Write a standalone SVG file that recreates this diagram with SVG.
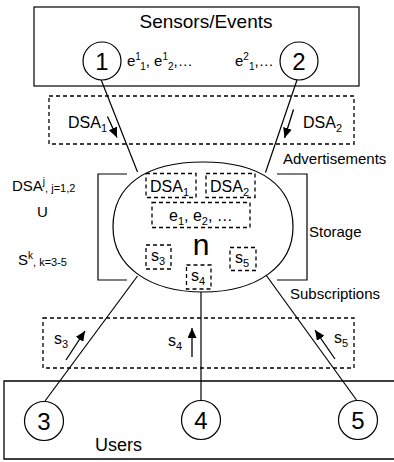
<svg xmlns="http://www.w3.org/2000/svg" width="394" height="462" viewBox="0 0 394 462">
<style>
text{font-family:"Liberation Sans",Arial,sans-serif;fill:#000}
.box{fill:none;stroke:#000;stroke-width:1.2}
.dash{fill:none;stroke:#000;stroke-width:1.3;stroke-dasharray:4 3}
.ln{fill:none;stroke:#000;stroke-width:1.2}
.arr{fill:none;stroke:#000;stroke-width:1.3;marker-end:url(#ah)}
.node{fill:#fff;stroke:#000;stroke-width:1.2}
.num{font-size:24px;text-anchor:middle}
.t16{font-size:16px}
.t15{font-size:15px}
.s{font-size:11px}
.xs{font-size:10px}
</style>
<defs>
<marker id="ah" markerWidth="11" markerHeight="9" refX="10" refY="4.5" orient="auto" markerUnits="userSpaceOnUse">
<path d="M0,0 L10,4.5 L0,9 z" fill="#000"/>
</marker>
</defs>

<g id="sensors">
<rect class="box" x="34" y="7" width="325" height="79"/>
<text x="206" y="28" font-size="19" text-anchor="middle">Sensors/Events</text>
<text x="127" y="66" class="t15">e<tspan class="xs" dy="-6">1</tspan><tspan class="xs" dy="10">1</tspan><tspan dy="-4">, e</tspan><tspan class="xs" dy="-6">1</tspan><tspan class="xs" dy="10">2</tspan><tspan dy="-4">,…</tspan></text>
<text x="235" y="66" class="t15">e<tspan class="xs" dy="-6">2</tspan><tspan class="xs" dy="10">1</tspan><tspan dy="-4">,…</tspan></text>
</g>

<g id="users">
<path d="M400,381 L4,381 L4,459 L400,459" fill="none" stroke="#000" stroke-width="1.3"/>
<text x="95" y="451" font-size="18">Users</text>
</g>

<g id="advertisements">
<rect class="dash" x="49" y="96" width="305" height="48"/>
<text x="68" y="128" class="t16">DSA<tspan class="s" dy="4">1</tspan></text>
<text x="303" y="128" class="t16">DSA<tspan class="s" dy="4">2</tspan></text>
<text x="283" y="164" class="t15">Advertisements</text>
</g>

<g id="subscriptions">
<rect class="dash" x="43" y="318" width="311" height="50"/>
<text x="54" y="344" class="t16">s<tspan class="s" dy="4">3</tspan></text>
<text x="168" y="346" class="t16">s<tspan class="s" dy="4">4</tspan></text>
<text x="334" y="343" class="t16">s<tspan class="s" dy="4">5</tspan></text>
<text x="290" y="299" class="t15">Subscriptions</text>
</g>

<g id="connectors">
<line class="ln" x1="101" y1="79.5" x2="137.5" y2="172"/>
<line class="ln" x1="297" y1="80" x2="265.5" y2="172.5"/>
<line class="ln" x1="45" y1="401" x2="137.5" y2="276"/>
<line class="ln" x1="201" y1="400" x2="201" y2="292"/>
<line class="ln" x1="356.5" y1="400" x2="266" y2="275"/>
<line class="arr" x1="107.5" y1="116.5" x2="117" y2="137.5"/>
<line class="arr" x1="293.5" y1="109.5" x2="284.5" y2="138"/>
<line class="arr" x1="66" y1="360" x2="85" y2="331"/>
<line class="arr" x1="192" y1="357" x2="192" y2="328"/>
<line class="arr" x1="335" y1="359" x2="315" y2="330"/>
</g>

<g id="node-1"><circle class="node" cx="102" cy="61" r="19"/><text class="num" x="102" y="69.5">1</text></g>
<g id="node-2"><circle class="node" cx="299" cy="61" r="19"/><text class="num" x="299" y="69.5">2</text></g>
<g id="node-3"><circle class="node" cx="44" cy="421" r="19.5"/><text class="num" x="44" y="429.5">3</text></g>
<g id="node-4"><circle class="node" cx="201" cy="420" r="19.5"/><text class="num" x="201" y="428.5">4</text></g>
<g id="node-5"><circle class="node" cx="358" cy="420" r="19.5"/><text class="num" x="358" y="428.5">5</text></g>

<g id="storage-brackets">
<path class="ln" d="M127,174 L98,174 L98,280 L127,280"/>
<path class="ln" d="M277,174 L307,174 L307,280 L277,280"/>
<text x="12" y="191" class="t15">DSA<tspan class="xs" dy="-6">j</tspan><tspan class="s" dy="7">, j=1,2</tspan></text>
<text x="37" y="217" class="t15">U</text>
<text x="18" y="265" class="t15">S<tspan class="xs" dy="-6">k</tspan><tspan class="s" dy="7">, k=3-5</tspan></text>
<text x="309" y="237" class="t15">Storage</text>
</g>

<g id="node-n">
<path class="box" d="M113,227 C113,186 145,162 203,162 C261,162 293,186 293,227 C293,266 257,292 203,292 C149,292 113,266 113,227 Z"/>
<rect class="dash" x="146" y="173.5" width="50" height="24"/>
<text x="150" y="192" class="t16">DSA<tspan class="s" dy="4">1</tspan></text>
<rect class="dash" x="206" y="173.5" width="49" height="24"/>
<text x="210" y="192" class="t16">DSA<tspan class="s" dy="4">2</tspan></text>
<rect class="dash" x="152" y="202.5" width="98" height="25"/>
<text x="169" y="221" class="t16">e<tspan class="s" dy="4">1</tspan><tspan dy="-4">, e</tspan><tspan class="s" dy="4">2</tspan><tspan dy="-4">, …</tspan></text>
<text x="201" y="255" font-size="30" text-anchor="middle">n</text>
<rect class="dash" x="146" y="245" width="25" height="24"/>
<text x="151" y="261" class="t16">s<tspan class="s" dy="4">3</tspan></text>
<rect class="dash" x="230" y="247.5" width="26" height="23"/>
<text x="235" y="263" class="t16">s<tspan class="s" dy="4">5</tspan></text>
<rect class="dash" x="186.5" y="265" width="24.5" height="24"/>
<text x="191" y="281" class="t16">s<tspan class="s" dy="4">4</tspan></text>
</g>
</svg>
